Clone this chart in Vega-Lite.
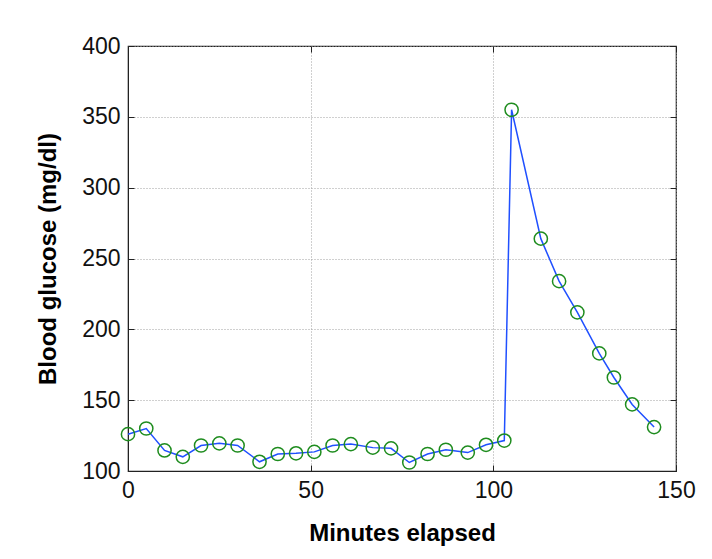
{
  "$schema": "https://vega.github.io/schema/vega-lite/v6.json",
  "width": 548,
  "height": 425,
  "autosize": {"type": "none"},
  "padding": {"left": 128, "top": 46, "right": 36, "bottom": 88},
  "background": "white",
  "config": {
    "view": {"stroke": "#222222", "strokeWidth": 1.2},
    "font": "Liberation Sans",
    "axis": {
      "labelFont": "Liberation Sans",
      "labelFontSize": 23,
      "labelColor": "#111111",
      "labelFlush": false,
      "titleFont": "Liberation Sans",
      "titleFontSize": 24,
      "titleFontWeight": "bold",
      "titleColor": "#000000",
      "domainColor": "#222222",
      "tickColor": "#222222",
      "tickSize": -6,
      "gridColor": "#a0a0a0",
      "gridDash": [1, 2],
      "gridWidth": 1
    }
  },
  "data": {
    "values": [
      {"minutes": 0, "glucose": 126},
      {"minutes": 5, "glucose": 130},
      {"minutes": 10, "glucose": 114.5},
      {"minutes": 15, "glucose": 110},
      {"minutes": 20, "glucose": 118},
      {"minutes": 25, "glucose": 119.5},
      {"minutes": 30, "glucose": 118},
      {"minutes": 36, "glucose": 106.5},
      {"minutes": 41, "glucose": 112},
      {"minutes": 46, "glucose": 112.5},
      {"minutes": 51, "glucose": 113.5},
      {"minutes": 56, "glucose": 118},
      {"minutes": 61, "glucose": 119},
      {"minutes": 67, "glucose": 116.5},
      {"minutes": 72, "glucose": 116},
      {"minutes": 77, "glucose": 106},
      {"minutes": 82, "glucose": 112},
      {"minutes": 87, "glucose": 115},
      {"minutes": 93, "glucose": 113},
      {"minutes": 98, "glucose": 118.5},
      {"minutes": 103, "glucose": 121.5},
      {"minutes": 105, "glucose": 355},
      {"minutes": 113, "glucose": 264},
      {"minutes": 118, "glucose": 234},
      {"minutes": 123, "glucose": 212},
      {"minutes": 129, "glucose": 183},
      {"minutes": 133, "glucose": 166},
      {"minutes": 138, "glucose": 147},
      {"minutes": 144, "glucose": 131}
    ]
  },
  "layer": [
    {
      "mark": {"type": "line", "color": "#2050ff", "strokeWidth": 1.5},
      "encoding": {
        "x": {
          "field": "minutes",
          "type": "quantitative",
          "scale": {"domain": [0, 150], "nice": false},
          "axis": {
            "values": [0, 50, 100, 150],
            "title": "Minutes elapsed",
            "labelPadding": 14,
            "titlePadding": 19,
            "grid": true
          }
        },
        "y": {
          "field": "glucose",
          "type": "quantitative",
          "scale": {"domain": [100, 400], "nice": false, "zero": false},
          "axis": {
            "values": [100, 150, 200, 250, 300, 350, 400],
            "title": "Blood glucose (mg/dl)",
            "labelPadding": 14,
            "titlePadding": 21,
            "grid": true
          }
        }
      }
    },
    {
      "mark": {"type": "point", "shape": "circle", "filled": false, "color": "#1e8c1e", "size": 175, "strokeWidth": 1.5, "opacity": 1},
      "encoding": {
        "x": {
          "field": "minutes",
          "type": "quantitative",
          "axis": {"orient": "top", "values": [0, 50, 100, 150], "labels": false, "title": null, "domain": false, "grid": false}
        },
        "y": {
          "field": "glucose",
          "type": "quantitative",
          "axis": {"orient": "right", "values": [100, 150, 200, 250, 300, 350, 400], "labels": false, "title": null, "domain": false, "grid": false}
        }
      }
    }
  ],
  "resolve": {"axis": {"x": "independent", "y": "independent"}}
}
